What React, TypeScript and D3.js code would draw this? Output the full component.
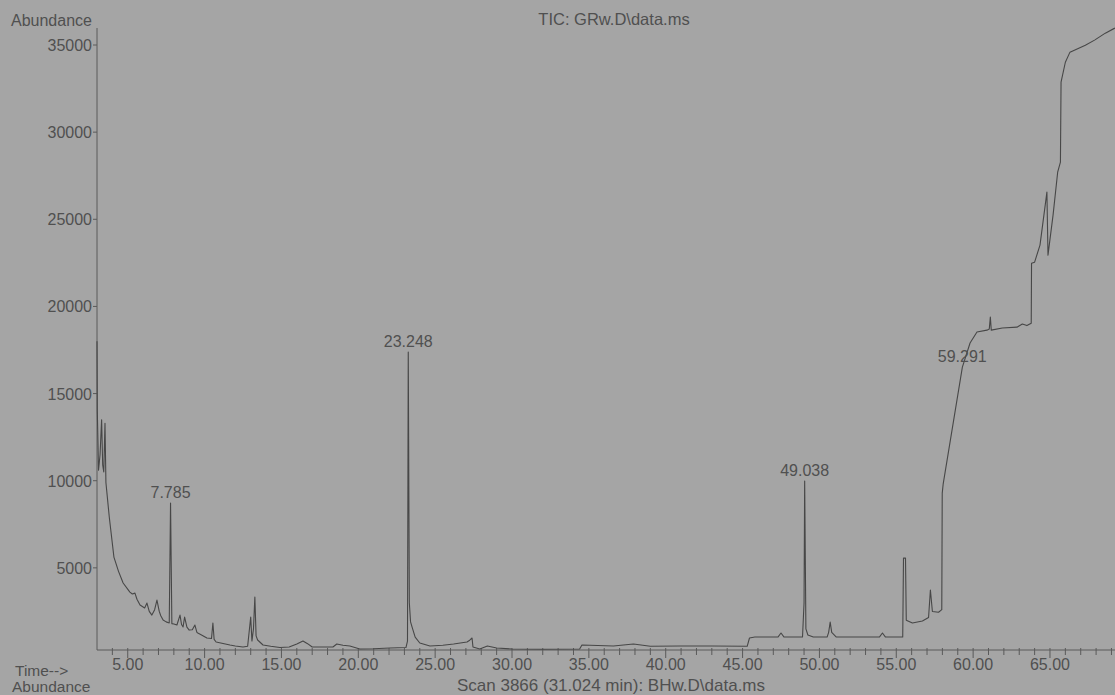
import React from "react";
import * as d3 from "d3";

const times = [
  3.0, 3.02, 3.1, 3.2, 3.3, 3.37, 3.44, 3.52, 3.58, 3.8, 4.1, 4.4, 4.7, 5.14, 5.3, 5.47, 5.6, 5.8,
  6.1, 6.25, 6.4, 6.57, 6.75, 6.9, 7.05, 7.15, 7.3, 7.5, 7.7, 7.785, 7.87, 8.0, 8.2, 8.4, 8.5,
  8.6, 8.7, 8.85, 9.0, 9.2, 9.37, 9.5, 9.56, 9.8, 10.15, 10.45, 10.54, 10.62, 10.75, 11.2, 11.65,
  12.0, 12.5, 12.8, 13.0, 13.08, 13.18, 13.27, 13.35, 13.45, 13.8, 14.3, 14.9, 15.5, 16.0, 16.4,
  16.7, 17.0, 18.35, 18.6, 19.0, 19.45, 20.1, 21.0, 22.05, 23.1, 23.2, 23.25, 23.32, 23.4, 23.5,
  23.7, 24.0, 24.66, 25.5, 26.2, 27.07, 27.25, 27.4, 27.46, 27.9, 28.4, 29.0, 30.0, 32.0, 34.4,
  34.55, 36.6, 37.9, 39.0, 40.9, 43.0, 45.3, 45.45, 45.8, 47.3, 47.5, 47.7, 48.9, 49.0, 49.04,
  49.12, 49.25, 49.6, 50.5, 50.6, 50.7, 50.8, 51.1, 53.9, 54.1, 54.3, 55.42, 55.47, 55.6, 55.65,
  56.05, 56.7, 57.1, 57.22, 57.35, 57.75, 57.96, 57.99, 58.05, 59.3, 59.8, 60.25, 60.9, 61.05,
  61.12, 61.18, 61.9, 62.85, 63.2, 63.5, 63.78, 63.8, 64.0, 64.35, 64.8, 64.87, 65.2, 65.5, 65.68,
  65.72, 66.0, 66.3, 67.3, 67.9, 68.6, 69.22,
];

const abundances = [
  18000, 14000, 10600, 11500, 13500, 10900, 10500, 13300, 9900, 7900, 5620, 4800, 4130, 3610, 3500,
  3550, 3200, 2870, 2700, 2980, 2500, 2290, 2600, 3150, 2500, 2250, 2010, 1900, 1840, 8720, 1800,
  1780, 1720, 2290, 1750, 1610, 2180, 1600, 1430, 1450, 1720, 1300, 1260, 1150, 975, 950, 1840,
  900, 745, 660, 574, 520, 460, 500, 2180, 800, 1500, 3330, 1100, 860, 574, 500, 430, 460, 630,
  800, 650, 460, 460, 630, 560, 516, 344, 360, 400, 430, 800, 17380, 3000, 1900, 1600, 1030, 690,
  516, 560, 630, 745, 850, 975, 460, 344, 516, 400, 344, 330, 344, 574, 516, 630, 500, 516, 520,
  500, 975, 1030, 1030, 1260, 1030, 1030, 3000, 9980, 1500, 1150, 1030, 1030, 1300, 1890, 1300,
  1030, 1030, 1260, 1030, 1030, 5560, 5560, 2000, 1840, 1950, 2150, 3730, 2500, 2450, 2600, 9290,
  9800, 16520, 17900, 18530, 18640, 18700, 19390, 18640, 18760, 18810, 18990, 18900, 19040, 22480,
  22540, 23520, 26560, 22940, 25240, 27700, 28280, 32870, 34010, 34590, 34990, 35280, 35680, 35970,
];

const yTicks = [5000, 10000, 15000, 20000, 25000, 30000, 35000];
const xMajorTicks = [5, 10, 15, 20, 25, 30, 35, 40, 45, 50, 55, 60, 65];
const xMinorTicks = [
  4, 6, 7, 8, 9, 11, 12, 13, 14, 16, 17, 18, 19, 21, 22, 23, 24, 26, 27, 28, 29, 31, 32, 33, 34,
  36, 37, 38, 39, 41, 42, 43, 44, 46, 47, 48, 49, 51, 52, 53, 54, 56, 57, 58, 59, 61, 62, 63, 64,
  66, 67, 68, 69,
];
const peakTimes = [7.785, 23.248, 49.038, 59.291];
const peakTexts = ["7.785", "23.248", "49.038", "59.291"];

const W = 1115;
const H = 695;
const BG = "#a5a5a5";
const INK = "#505050";
const FONT = "'Liberation Sans', Arial, Helvetica, sans-serif";

export default function App() {
  const x = d3.scaleLinear().domain([3.0, 69.23]).range([97, 1115]);
  const y = d3.scaleLinear().domain([0, 35000]).range([655, 45]);
  const axisY = 650;
  const data = times.map((t, i) => [t, abundances[i]] as [number, number]);
  const line = d3
    .line<[number, number]>()
    .x((d) => x(d[0]))
    .y((d) => y(d[1]));

  const peakValue = (t: number) => {
    let best = 0;
    data.forEach(([tt, v]) => {
      if (Math.abs(tt - t) <= 0.1 && v > best) best = v;
    });
    return best;
  };

  return (
    <svg
      width={W}
      height={H}
      style={{ position: "absolute", left: 0, top: 0, display: "block" }}
      fontFamily={FONT}
    >
      <rect x={0} y={0} width={W} height={H} fill={BG} />
      <text x={614} y={25} textAnchor="middle" fontSize={16.5} fill={INK}>
        TIC: GRw.D\data.ms
      </text>
      <text x={11} y={26} fontSize={16} fill={INK}>
        Abundance
      </text>
      <line x1={97} x2={97} y1={28} y2={axisY} stroke="#5a5a5a" strokeWidth={1} />
      {yTicks.map((v) => (
        <g key={v}>
          <line x1={93} x2={97} y1={y(v)} y2={y(v)} stroke="#5a5a5a" />
          <text x={92} y={y(v) + 6} textAnchor="end" fontSize={16} fill={INK}>
            {v}
          </text>
        </g>
      ))}
      <line x1={97} x2={W} y1={axisY} y2={axisY} stroke="#5a5a5a" strokeWidth={1} />
      {xMinorTicks.map((t) => (
        <line key={"m" + t} x1={x(t)} x2={x(t)} y1={axisY - 2} y2={axisY + 5} stroke="#5a5a5a" />
      ))}
      {xMajorTicks.map((t) => (
        <g key={"M" + t}>
          <line x1={x(t)} x2={x(t)} y1={axisY - 2} y2={axisY + 8} stroke="#5a5a5a" />
          <text x={x(t)} y={670} textAnchor="middle" fontSize={16} fill={INK}>
            {t.toFixed(2)}
          </text>
        </g>
      ))}
      <text x={15} y={676} fontSize={15.5} fill={INK}>
        Time--&gt;
      </text>
      <text x={12} y={692} fontSize={15.5} fill={INK}>
        Abundance
      </text>
      <text x={611} y={691} textAnchor="middle" fontSize={17} fill={INK}>
        Scan 3866 (31.024 min): BHw.D\data.ms
      </text>
      <path d={line(data) || ""} fill="none" stroke="#474747" strokeWidth={1.1} strokeLinejoin="round" />
      {peakTimes.map((t, i) => (
        <text
          key={peakTexts[i]}
          x={x(t)}
          y={y(peakValue(t)) - 5}
          textAnchor="middle"
          fontSize={16}
          fill={INK}
        >
          {peakTexts[i]}
        </text>
      ))}
    </svg>
  );
}
